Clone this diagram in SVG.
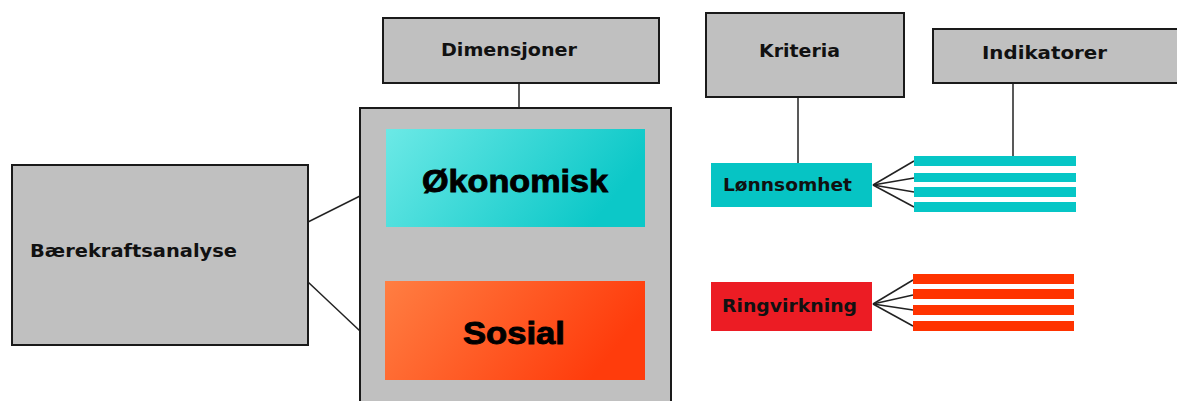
<svg xmlns="http://www.w3.org/2000/svg" width="1177" height="401" viewBox="0 0 1177 401">
<style>
.box{fill:#c0c0c0;stroke:#1a1a1a;stroke-width:2}
.lbl{font-family:"DejaVu Sans",Verdana,sans-serif;font-weight:bold;font-size:17px;fill:#111}
.big{font-family:"Liberation Sans",Arial,sans-serif;font-weight:bold;font-size:31px;fill:#000;stroke:#000;stroke-width:0.9}
.conn line{stroke:#222;stroke-width:1.5}
.cy{fill:#06c6c6}
.rd{fill:#ff3300}
</style>
<defs>
<linearGradient id="gc" x1="0" y1="0" x2="1" y2="0.3">
<stop offset="0" stop-color="#6ce9e6"/>
<stop offset="1" stop-color="#0cc8c8"/>
</linearGradient>
<linearGradient id="go" x1="0" y1="0" x2="1" y2="0.3">
<stop offset="0" stop-color="#ff7e42"/>
<stop offset="1" stop-color="#ff3c0c"/>
</linearGradient>
</defs>
<rect width="1177" height="401" fill="#fff"/>
<g class="conn">
<line x1="519" y1="83" x2="519" y2="108"/>
<line x1="308" y1="222" x2="360" y2="196"/>
<line x1="308" y1="282" x2="360" y2="331"/>
<line x1="798" y1="97" x2="798" y2="163"/>
<line x1="1013" y1="83" x2="1013" y2="156"/>
<line x1="873" y1="185" x2="914" y2="161"/>
<line x1="873" y1="185" x2="914" y2="178"/>
<line x1="873" y1="185" x2="914" y2="192"/>
<line x1="873" y1="185" x2="914" y2="207"/>
<line x1="873" y1="304" x2="913" y2="280"/>
<line x1="873" y1="304" x2="913" y2="295"/>
<line x1="873" y1="304" x2="913" y2="310"/>
<line x1="873" y1="304" x2="913" y2="326"/>
</g>
<g id="dimensjoner">
<rect class="box" x="383" y="18" width="276" height="65"/>
<text class="lbl" x="441" y="56" textLength="136" lengthAdjust="spacingAndGlyphs">Dimensjoner</text>
</g>
<g id="container">
<rect class="box" x="360" y="108" width="311" height="310"/>
</g>
<g id="okonomisk">
<rect x="386" y="129" width="259" height="98" fill="url(#gc)"/>
<text class="big" x="422" y="192" textLength="186" lengthAdjust="spacingAndGlyphs">Økonomisk</text>
</g>
<g id="sosial">
<rect x="385" y="281" width="260" height="99" fill="url(#go)"/>
<text class="big" x="463" y="344" textLength="102" lengthAdjust="spacingAndGlyphs">Sosial</text>
</g>
<g id="baerekraftsanalyse">
<rect class="box" x="12" y="165" width="296" height="180"/>
<text class="lbl" x="30" y="257" textLength="207" lengthAdjust="spacingAndGlyphs">Bærekraftsanalyse</text>
</g>
<g id="kriteria">
<rect class="box" x="706" y="13" width="198" height="84"/>
<text class="lbl" x="759" y="57" textLength="81" lengthAdjust="spacingAndGlyphs">Kriteria</text>
</g>
<g id="indikatorer">
<rect class="box" x="933" y="29" width="250" height="54"/>
<text class="lbl" x="982" y="59" textLength="125" lengthAdjust="spacingAndGlyphs">Indikatorer</text>
</g>
<g id="lonnsomhet">
<rect x="711" y="163" width="161" height="44" fill="#06c4c4"/>
<text class="lbl" x="723" y="191" textLength="129" lengthAdjust="spacingAndGlyphs">Lønnsomhet</text>
</g>
<g id="ringvirkning">
<rect x="711" y="282" width="161" height="49" fill="#ec1c24"/>
<text class="lbl" x="722" y="312" textLength="135" lengthAdjust="spacingAndGlyphs">Ringvirkning</text>
</g>
<g id="indikatorer-okonomisk">
<rect class="cy" x="914" y="156" width="162" height="10"/>
<rect class="cy" x="914" y="173" width="162" height="9"/>
<rect class="cy" x="914" y="187" width="162" height="10"/>
<rect class="cy" x="914" y="202" width="162" height="10"/>
</g>
<g id="indikatorer-sosial">
<rect class="rd" x="913" y="274" width="161" height="10"/>
<rect class="rd" x="913" y="289" width="161" height="10"/>
<rect class="rd" x="913" y="305" width="161" height="10"/>
<rect class="rd" x="913" y="321" width="161" height="10"/>
</g>
</svg>
